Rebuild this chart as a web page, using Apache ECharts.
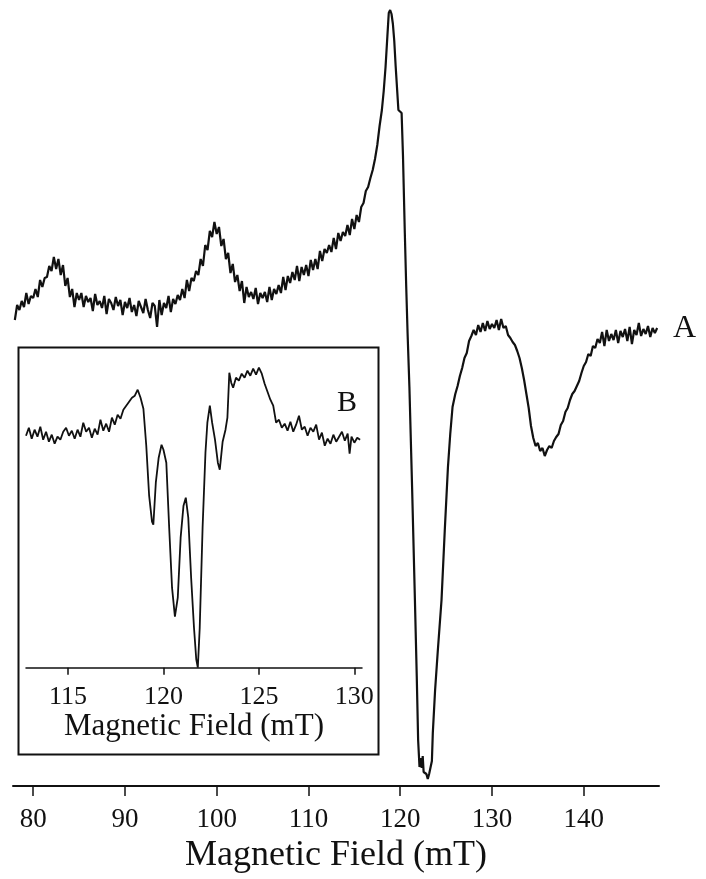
<!DOCTYPE html>
<html>
<head>
<meta charset="utf-8">
<script src="https://cdn.jsdelivr.net/npm/echarts@6/dist/echarts.min.js"></script>
<style>
html,body{margin:0;padding:0;background:#fff;}
#chart{width:706px;height:879px;}
</style>
</head>
<body>
<div id="chart"></div>
<script>
// Main spectrum A: magnetic field (mT) and signal (arbitrary units, height above baseline)
var fieldA = [78.00,78.25,78.50,78.75,79.00,79.25,79.50,79.75,80.00,80.25,80.50,80.75,81.00,81.25,81.50,81.75,82.00,82.25,82.50,82.75,83.00,83.25,83.50,83.75,84.00,84.25,84.50,84.75,85.00,85.25,85.50,85.75,86.00,86.25,86.50,86.75,87.00,87.25,87.50,87.75,88.00,88.25,88.50,88.75,89.00,89.25,89.50,89.75,90.00,90.25,90.50,90.75,91.00,91.25,91.50,91.75,92.00,92.25,92.50,92.75,93.00,93.25,93.50,93.75,94.00,94.25,94.50,94.75,95.00,95.25,95.50,95.75,96.00,96.25,96.50,96.75,97.00,97.25,97.50,97.75,98.00,98.25,98.50,98.75,99.00,99.25,99.50,99.75,100.00,100.25,100.50,100.75,101.00,101.25,101.50,101.75,102.00,102.25,102.50,102.75,103.00,103.25,103.50,103.75,104.00,104.25,104.50,104.75,105.00,105.25,105.50,105.75,106.00,106.25,106.50,106.75,107.00,107.25,107.50,107.75,108.00,108.25,108.50,108.75,109.00,109.25,109.50,109.75,110.00,110.25,110.50,110.75,111.00,111.25,111.50,111.75,112.00,112.25,112.50,112.75,113.00,113.25,113.50,113.75,114.00,114.25,114.50,114.75,115.00,115.25,115.50,115.75,116.00,116.25,116.50,116.75,117.00,117.25,117.50,117.75,118.00,118.20,118.40,118.60,118.75,118.90,119.05,119.20,119.35,119.50,119.65,119.80,120.00,120.15,120.30,120.50,120.65,120.80,121.00,121.30,121.60,121.80,121.95,122.10,122.25,122.35,122.45,122.55,122.70,122.85,123.00,123.15,123.30,123.45,123.55,123.80,124.10,124.50,124.85,125.20,125.45,125.70,126.00,126.25,126.50,126.75,127.00,127.25,127.50,127.75,128.00,128.25,128.50,128.75,129.00,129.25,129.50,129.75,130.00,130.25,130.50,130.75,131.00,131.25,131.50,131.75,132.00,132.25,132.50,132.75,133.00,133.25,133.50,133.75,134.00,134.25,134.50,134.75,135.00,135.25,135.50,135.75,136.00,136.25,136.50,136.75,137.00,137.25,137.50,137.75,138.00,138.25,138.50,138.75,139.00,139.25,139.50,139.75,140.00,140.25,140.50,140.75,141.00,141.25,141.50,141.75,142.00,142.25,142.50,142.75,143.00,143.25,143.50,143.75,144.00,144.25,144.50,144.75,145.00,145.25,145.50,145.75,146.00,146.25,146.50,146.75,147.00,147.25,147.50,147.75,148.00];
var signalA = [466,481,476,485,479,493,482,490,488,497,489,506,499,508,509,520,515,529,517,527,511,521,500,508,489,497,479,493,486,493,479,490,484,488,475,492,481,485,478,490,472,487,483,476,489,480,486,471,484,478,488,474,481,470,485,479,473,487,476,468,483,480,459,486,471,483,478,490,474,487,482,491,486,497,488,506,495,508,505,515,511,527,520,541,536,555,549,564,552,559,540,547,527,533,513,522,504,511,495,505,483,499,489,494,487,498,482,493,488,494,484,499,486,497,492,501,493,509,496,510,503,514,506,520,505,519,511,521,510,526,516,527,517,535,525,537,533,541,534,548,537,553,545,554,550,561,551,567,557,571,564,579,583,595,599,608,616,627,641,660,676,695,719,750,773,776,772,762,745,720,698,676,674,673,630,553,500,453,399,296,186,110,46,19,28,18,30,14,16,12,7,12,10,25,53,96,136,186,255,319,352,379,392,400,410,418,428,433,445,450,456,451,461,454,463,455,465,457,462,458,466,456,467,458,460,451,448,444,441,435,428,418,406,392,378,360,348,340,343,335,338,330,336,340,338,345,349,352,361,365,374,378,386,392,395,400,405,413,420,424,432,430,440,438,447,443,454,440,456,445,452,446,456,443,455,449,457,445,459,442,456,451,463,450,457,452,460,449,458,453,458,454,457,455,456];

// Inset spectrum B
var fieldB = [112.80,112.95,113.10,113.25,113.40,113.55,113.70,113.85,114.00,114.15,114.30,114.45,114.60,114.75,114.90,115.05,115.20,115.35,115.50,115.65,115.80,115.95,116.10,116.25,116.40,116.55,116.70,116.85,117.00,117.15,117.30,117.45,117.60,117.75,117.90,118.05,118.20,118.35,118.50,118.65,118.80,118.95,119.10,119.25,119.40,119.47,119.60,119.75,119.90,120.00,120.15,120.30,120.45,120.60,120.75,120.90,121.05,121.17,121.30,121.45,121.60,121.72,121.80,121.90,122.05,122.20,122.30,122.43,122.55,122.70,122.85,122.95,123.10,123.25,123.35,123.45,123.55,123.65,123.80,123.95,124.10,124.25,124.40,124.55,124.70,124.85,125.00,125.15,125.30,125.45,125.60,125.75,125.90,126.05,126.20,126.35,126.50,126.65,126.80,126.95,127.10,127.25,127.40,127.55,127.70,127.85,128.00,128.15,128.30,128.45,128.60,128.75,128.90,129.05,129.20,129.35,129.50,129.65,129.75,129.85,130.00,130.15,130.30];
var signalB = [232,240,229,238,231,241,228,236,226,233,224,231,228,236,240,232,237,229,238,231,245,236,240,230,239,233,248,237,244,236,250,243,253,249,258,262,266,270,272,278,270,259,222,172,146,143,185,210,223,218,205,140,80,51,70,130,162,170,150,90,40,8,0,40,140,215,245,262,245,228,205,198,226,238,250,295,285,280,290,287,294,290,297,292,299,293,300,294,284,276,268,262,245,248,240,244,237,246,236,243,252,238,241,232,240,236,243,228,235,222,229,224,233,226,231,236,227,234,214,231,225,230,228];

// Tick labels
var ticksA = [80, 90, 100, 110, 120, 130, 140];
var ticksB = [115, 120, 125, 130];
var axisTitle = 'Magnetic Field (mT)';

function zip(xs, ys) { return xs.map(function (x, i) { return [x, ys[i]]; }); }

var FONT = 'Liberation Serif';
var chart = echarts.init(document.getElementById('chart'), null, { renderer: 'canvas' });
chart.setOption({
  backgroundColor: '#ffffff',
  animation: false,
  grid: [
    { left: 13, right: 47, top: 0, bottom: 93 },
    { left: 26, width: 336, top: 345, bottom: 211.3 }
  ],
  xAxis: [
    {
      type: 'value', gridIndex: 0, min: 77.8, max: 148.2,
      axisLine: { lineStyle: { color: '#111', width: 2 } },
      axisTick: { show: true, length: 10, lineStyle: { color: '#111', width: 1.5 }, customValues: ticksA },
      axisLabel: { customValues: ticksA, margin: 20, color: '#111', fontFamily: FONT, fontSize: 27 },
      splitLine: { show: false },
      name: axisTitle, nameLocation: 'middle', nameGap: 47,
      nameTextStyle: { color: '#111', fontFamily: FONT, fontSize: 36 }
    },
    {
      type: 'value', gridIndex: 1, min: 112.8, max: 130.4,
      axisLine: { lineStyle: { color: '#111', width: 1.5 } },
      axisTick: { show: true, length: 7, lineStyle: { color: '#111', width: 1.5 }, customValues: ticksB },
      axisLabel: { customValues: ticksB, margin: 16, color: '#111', fontFamily: FONT, fontSize: 26 },
      splitLine: { show: false },
      name: axisTitle, nameLocation: 'middle', nameGap: 44,
      nameTextStyle: { color: '#111', fontFamily: FONT, fontSize: 31 }
    }
  ],
  yAxis: [
    { type: 'value', gridIndex: 0, min: 0, max: 786, show: false },
    { type: 'value', gridIndex: 1, min: 0, max: 322.7, show: false }
  ],
  graphic: [
    { type: 'rect', left: 16, top: 345, shape: { x: 0, y: 0, width: 360, height: 407 },
      style: { fill: 'none', stroke: '#111', lineWidth: 2 }, z: 1 },
    { type: 'text', left: 673, top: 313, style: { text: 'A', fill: '#111', font: '32px "Liberation Serif"' } },
    { type: 'text', left: 337, top: 388, style: { text: 'B', fill: '#111', font: '30px "Liberation Serif"' } }
  ],
  series: [
    { type: 'line', xAxisIndex: 0, yAxisIndex: 0, data: zip(fieldA, signalA), showSymbol: false,
      lineStyle: { color: '#111', width: 2.2 }, clip: false },
    { type: 'line', xAxisIndex: 1, yAxisIndex: 1, data: zip(fieldB, signalB), showSymbol: false,
      lineStyle: { color: '#111', width: 1.8 }, clip: false }
  ]
});
</script>
</body>
</html>
